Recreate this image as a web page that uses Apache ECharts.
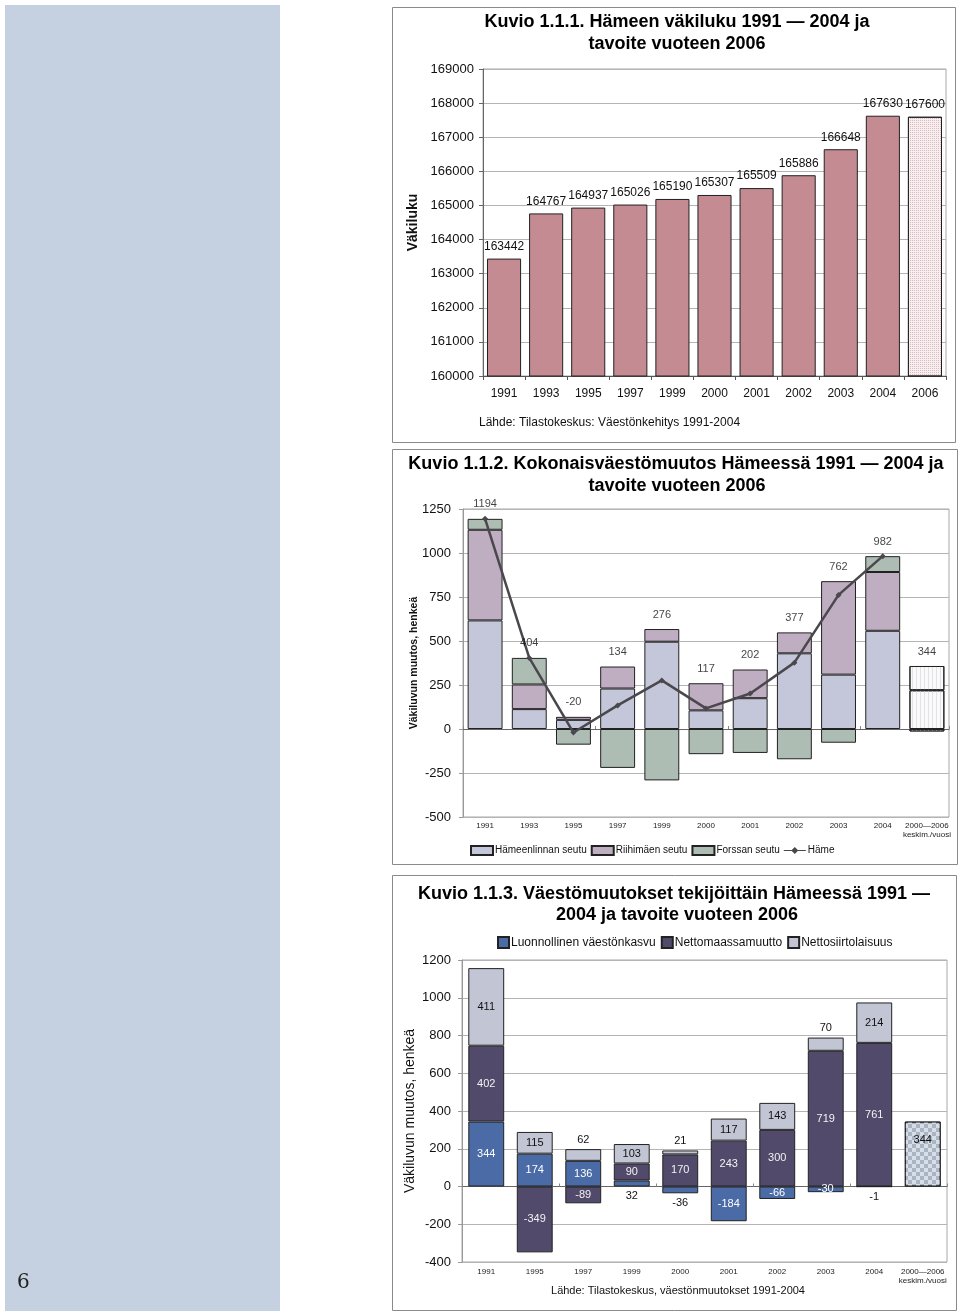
<!DOCTYPE html>
<html>
<head>
<meta charset="utf-8">
<script src="https://cdn.jsdelivr.net/npm/echarts@6/dist/echarts.min.js"></script>
<style>
html,body{margin:0;padding:0;background:#fff;}
#c{width:960px;height:1315px;}
</style>
</head>
<body>
<div id="c"></div>
<script>
// ---------- Chart 1.1.1 data ----------
const c1Years = ['1991','1993','1995','1997','1999','2000','2001','2002','2003','2004','2006'];
const c1Population = [163442,164767,164937,165026,165190,165307,165509,165886,166648,167630,167600];
const c1Min = 160000, c1Max = 169000, c1Step = 1000;

// ---------- Chart 1.1.2 data ----------
const c2Categories = ['1991','1993','1995','1997','1999','2000','2001','2002','2003','2004','2000—2006\nkeskim./vuosi'];
const c2Hameenlinna = [617,113,52,230,496,106,175,430,309,558,220];
const c2Riihimaki = [515,140,17,125,72,154,163,119,531,334,138];
const c2Forssa = [62,151,-89,-221,-292,-143,-136,-172,-78,90,-14];
const c2Hame = [1194,404,-20,134,276,117,202,377,762,982,null];
const c2TotalLabels = [1194,404,-20,134,276,117,202,377,762,982,344];
const c2Min = -500, c2Max = 1250, c2Step = 250;

// ---------- Chart 1.1.3 data ----------
const c3Categories = ['1991','1995','1997','1999','2000','2001','2002','2003','2004','2000—2006\nkeskim./vuosi'];
const c3Natural = [344,174,136,32,-36,-184,-66,-30,-1,null];
const c3NetDomestic = [402,-349,-89,90,170,243,300,719,761,null];
const c3NetImmigration = [411,115,62,103,21,117,143,70,214,null];
const c3Target = [null,null,null,null,null,null,null,null,null,344];
const c3Min = -400, c3Max = 1200, c3Step = 200;

// label placement styling for chart 3 (indices drawn outside the segment)
const c3NatOutside = [3,4,8];
const c3SiiOutside = [2,4,7];

const FONT = "'Liberation Sans', Arial, sans-serif";
const chart = echarts.init(document.getElementById('c'), null, {renderer:'canvas'});

const gridLine = {show:true, lineStyle:{color:'#b4b4b4', width:1}};
const border = {borderColor:'#222', borderWidth:1};
const plain = v => String(v);

const c2PosTop = c2Categories.map((_, i) =>
  [c2Hameenlinna[i], c2Riihimaki[i], c2Forssa[i]].reduce((s, v) => s + Math.max(0, v), 0));

const hatch = {symbol:'rect', symbolSize:1, dashArrayX:[1,3], dashArrayY:[4,0], color:'#e2e2e6'};
const lastIdx2 = c2Categories.length - 1;
function c2Data(arr) {
  return arr.map((v, i) => i === lastIdx2
    ? {value: v, itemStyle: {color: '#fafafb', decal: hatch}}
    : v);
}

const option = {
  animation: false,
  textStyle: {fontFamily: FONT},
  graphic: [
    {type:'rect', shape:{x:5,y:5,width:275,height:1306}, style:{fill:'#c5d1e1'}, silent:true},
    {type:'text', x:17, y:1283, style:{text:'6', font:"20px 'DejaVu Serif', serif", fill:'#222', textVerticalAlign:'middle'}},
    {type:'rect', shape:{x:392.5,y:7.5,width:563,height:435}, style:{fill:'none', stroke:'#8a8a8a', lineWidth:1}},
    {type:'rect', shape:{x:392.5,y:449.5,width:565,height:415}, style:{fill:'none', stroke:'#8a8a8a', lineWidth:1}},
    {type:'rect', shape:{x:392.5,y:875.5,width:564,height:435}, style:{fill:'none', stroke:'#8a8a8a', lineWidth:1}},
    {type:'text', x:677, y:22, style:{text:'Kuvio 1.1.1. Hämeen väkiluku 1991 — 2004 ja', font:'bold 18px '+FONT, fill:'#000', textAlign:'center', textVerticalAlign:'middle'}},
    {type:'text', x:677, y:44, style:{text:'tavoite vuoteen 2006', font:'bold 18px '+FONT, fill:'#000', textAlign:'center', textVerticalAlign:'middle'}},
    {type:'text', x:479, y:423, style:{text:'Lähde: Tilastokeskus: Väestönkehitys 1991-2004', font:'12px '+FONT, fill:'#111', textVerticalAlign:'middle'}},
    {type:'text', x:676, y:464, style:{text:'Kuvio 1.1.2. Kokonaisväestömuutos Hämeessä 1991 — 2004 ja', font:'bold 18px '+FONT, fill:'#000', textAlign:'center', textVerticalAlign:'middle'}},
    {type:'text', x:677, y:486, style:{text:'tavoite vuoteen 2006', font:'bold 18px '+FONT, fill:'#000', textAlign:'center', textVerticalAlign:'middle'}},
    {type:'text', x:674, y:894, style:{text:'Kuvio 1.1.3. Väestömuutokset tekijöittäin Hämeessä 1991 —', font:'bold 18px '+FONT, fill:'#000', textAlign:'center', textVerticalAlign:'middle'}},
    {type:'text', x:677, y:915, style:{text:'2004 ja tavoite vuoteen 2006', font:'bold 18px '+FONT, fill:'#000', textAlign:'center', textVerticalAlign:'middle'}},
    {type:'text', x:678, y:1291, style:{text:'Lähde: Tilastokeskus, väestönmuutokset 1991-2004', font:'11px '+FONT, fill:'#111', textAlign:'center', textVerticalAlign:'middle'}}
  ],
  legend: [
    {left:465, top:840, icon:'rect', itemWidth:22, itemHeight:9, itemGap:4, textStyle:{fontSize:10, color:'#111', padding:[0,0,0,-3]},
     data:['Hämeenlinnan seutu','Riihimäen seutu','Forssan seutu',{name:'Häme', icon:'path://M0,4 L8,4 L11,1 L14,4 L22,4 L22,5 L14,5 L11,8 L8,5 L0,5 Z'}]},
    {left:492, top:931, icon:'rect', itemWidth:11, itemHeight:11, itemGap:5, textStyle:{fontSize:12, color:'#111', padding:[0,0,0,-3]},
     data:['Luonnollinen väestönkasvu','Nettomaassamuutto','Nettosiirtolaisuus']}
  ],
  grid: [
    {left:483, width:463, top:69, height:307, show:true, borderColor:'#a8a8a8', borderWidth:1},
    {left:463, width:486, top:509, height:308, show:true, borderColor:'#a8a8a8', borderWidth:1},
    {left:462, width:485, top:960, height:302, show:true, borderColor:'#a8a8a8', borderWidth:1}
  ],
  xAxis: [
    {type:'category', gridIndex:0, data:c1Years,
     axisLine:{lineStyle:{color:'#555'}}, axisTick:{show:true, length:4, lineStyle:{color:'#555'}},
     axisLabel:{fontSize:12, color:'#111', margin:12}},
    {type:'category', gridIndex:1, data:c2Categories, position:'bottom',
     axisLine:{show:false, onZero:false}, axisTick:{show:false},
     axisLabel:{fontSize:8, color:'#222', margin:4, lineHeight:9, interval:0}},
    {type:'category', gridIndex:1, data:c2Categories, position:'top',
     axisLine:{show:true, onZero:true, lineStyle:{color:'#666'}}, axisTick:{show:true, length:3, inside:false, lineStyle:{color:'#888'}},
     axisLabel:{show:false}},
    {type:'category', gridIndex:2, data:c3Categories, position:'bottom',
     axisLine:{show:false, onZero:false}, axisTick:{show:false},
     axisLabel:{fontSize:8, color:'#222', margin:5, lineHeight:9, interval:0}},
    {type:'category', gridIndex:2, data:c3Categories, position:'top',
     axisLine:{show:true, onZero:true, lineStyle:{color:'#666'}}, axisTick:{show:true, length:3, lineStyle:{color:'#888'}},
     axisLabel:{show:false}}
  ],
  yAxis: [
    {type:'value', gridIndex:0, min:c1Min, max:c1Max, interval:c1Step,
     name:'Väkiluku', nameLocation:'middle', nameGap:63, nameRotate:90, nameMoveOverlap:false,
     nameTextStyle:{fontSize:14, fontWeight:'bold', color:'#111'},
     axisLine:{show:true, lineStyle:{color:'#666'}}, axisTick:{show:true, length:4, lineStyle:{color:'#666'}},
     axisLabel:{fontSize:13, color:'#111', margin:9, formatter:plain}, splitLine:gridLine},
    {type:'value', gridIndex:1, min:c2Min, max:c2Max, interval:c2Step,
     name:'Väkiluvun muutos, henkeä', nameLocation:'middle', nameGap:43, nameRotate:90, nameMoveOverlap:false,
     nameTextStyle:{fontSize:10.5, fontWeight:'bold', color:'#111'},
     axisLine:{show:true, lineStyle:{color:'#999'}}, axisTick:{show:true, length:4, lineStyle:{color:'#999'}},
     axisLabel:{fontSize:13, color:'#111', margin:12, formatter:plain}, splitLine:gridLine},
    {type:'value', gridIndex:2, min:c3Min, max:c3Max, interval:c3Step,
     name:'Väkiluvun muutos, henkeä', nameLocation:'middle', nameGap:45, nameRotate:90, nameMoveOverlap:false,
     nameTextStyle:{fontSize:14, color:'#111'},
     axisLine:{show:true, lineStyle:{color:'#999'}}, axisTick:{show:true, length:4, lineStyle:{color:'#999'}},
     axisLabel:{fontSize:13, color:'#111', margin:11, formatter:plain}, splitLine:gridLine}
  ],
  series: [
    // Chart 1
    {type:'bar', xAxisIndex:0, yAxisIndex:0, barCategoryGap:'19%',
     data: c1Population.map((v, i) => i === c1Population.length - 1
       ? {value:v, itemStyle:{color:'#f7eef0', decal:{symbol:'rect', symbolSize:1, dashArrayX:[1,1], dashArrayY:[1,1], color:'#dcbcc1'}}}
       : v),
     itemStyle:{color:'#c48b92', ...border},
     label:{show:true, position:'top', distance:6, fontSize:12, color:'#111'}},
    // Chart 2
    {name:'Hämeenlinnan seutu', type:'bar', stack:'c2', xAxisIndex:1, yAxisIndex:1, barCategoryGap:'21%',
     data:c2Data(c2Hameenlinna), itemStyle:{color:'#c3c7d9', ...border}},
    {name:'Riihimäen seutu', type:'bar', stack:'c2', xAxisIndex:1, yAxisIndex:1,
     data:c2Data(c2Riihimaki), itemStyle:{color:'#bfadc1', ...border}},
    {name:'Forssan seutu', type:'bar', stack:'c2', xAxisIndex:1, yAxisIndex:1,
     data:c2Data(c2Forssa), itemStyle:{color:'#aebdb4', ...border}},
    {name:'Häme', type:'line', xAxisIndex:1, yAxisIndex:1, data:c2Hame, z:5,
     symbol:'diamond', symbolSize:6, lineStyle:{color:'#4a474d', width:2.5}, itemStyle:{color:'#4a474d'}},
    {type:'scatter', xAxisIndex:1, yAxisIndex:1, symbolSize:0, silent:true, z:6,
     data:c2PosTop.map((v, i) => [i, v, c2TotalLabels[i]]),
     label:{show:true, position:'top', distance:9, fontSize:11, color:'#111', formatter:p => p.value[2]}},
    // Chart 3
    {name:'Luonnollinen väestönkasvu', type:'bar', stack:'c3', xAxisIndex:3, yAxisIndex:2, barCategoryGap:'26%',
     data:c3Natural.map((v, i) => c3NatOutside.includes(i)
       ? {value:v, label:{position:'bottom', distance:4, color:'#111'}} : v),
     itemStyle:{color:'#4a6ba6', ...border},
     label:{show:true, position:'inside', fontSize:11, color:'#fff'}},
    {name:'Nettomaassamuutto', type:'bar', stack:'c3', xAxisIndex:3, yAxisIndex:2,
     data:c3NetDomestic, itemStyle:{color:'#524a6b', ...border},
     label:{show:true, position:'inside', fontSize:11, color:'#f2f2f2'}},
    {name:'Nettosiirtolaisuus', type:'bar', stack:'c3', xAxisIndex:3, yAxisIndex:2,
     data:c3NetImmigration.map((v, i) => c3SiiOutside.includes(i)
       ? {value:v, label:{position:'top', distance:4}} : v),
     itemStyle:{color:'#c2c5d4', ...border},
     label:{show:true, position:'inside', fontSize:11, color:'#111'}},
    {name:'Tavoite', type:'bar', stack:'c3', xAxisIndex:3, yAxisIndex:2,
     data:c3Target,
     itemStyle:{color:'#a9b5c4', ...border,
       decal:{symbol:'rect', symbolSize:1, dashArrayX:[[4,4],[0,4,4,0]], dashArrayY:[4,0], color:'#d8dee6'}},
     label:{show:true, position:'insideTop', distance:13, fontSize:11, color:'#111'}}
  ]
};
chart.setOption(option);
</script>
</body>
</html>
